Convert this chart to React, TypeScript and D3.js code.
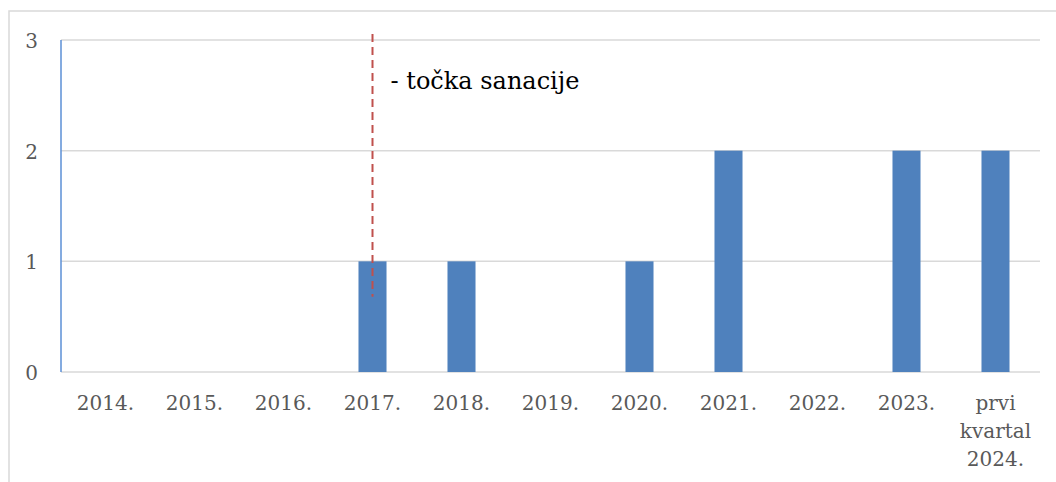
import React from "react";
import * as d3 from "d3";

const categories: string[][] = [
  ["2014."], ["2015."], ["2016."], ["2017."], ["2018."], ["2019."],
  ["2020."], ["2021."], ["2022."], ["2023."], ["prvi", "kvartal", "2024."],
];
const values: number[] = [0, 0, 0, 1, 1, 0, 1, 2, 0, 2, 2];
const yTicks: number[] = [0, 1, 2, 3];
const markerCategory = "2017.";
const markerLabel = "- točka sanacije";

const W = 1056;
const H = 482;
const left = 61;
const right = 1040;
const top = 40;
const bottom = 372;

export default function App() {
  const keys = categories.map((c) => c.join(" "));
  const p = 0.685;
  const x = d3.scaleBand<string>().domain(keys).range([left, right]).paddingInner(p).paddingOuter(p / 2);
  const y = d3.scaleLinear().domain([0, 3]).range([bottom, top]);
  const mk = markerCategory;
  const markerX = (x(mk) ?? 0) + x.bandwidth() / 2;
  const font = "'DejaVu Serif', serif";
  return (
    <svg
      width={W}
      height={H}
      style={{ position: "absolute", left: 0, top: 0, background: "#fff" }}
    >
      <rect x={9} y={11} width={W + 20} height={H + 20} fill="#fff" stroke="#d9d9d9" strokeWidth={1.5} />
      {yTicks.map((t) => (
        <g key={t}>
          {t > 0 && (
            <line x1={left} x2={right} y1={y(t)} y2={y(t)} stroke="#d9d9d9" strokeWidth={1.5} />
          )}
          <text x={38} y={y(t) + 8} textAnchor="end" fontFamily={font} fontSize={20} fill="#595959">
            {t}
          </text>
        </g>
      ))}
      <line x1={left} x2={right} y1={y(0)} y2={y(0)} stroke="#d9d9d9" strokeWidth={1.5} />
      {values.map((v, i) => (
        <rect
          key={keys[i]}
          x={x(keys[i])}
          y={y(v)}
          width={x.bandwidth()}
          height={y(0) - y(v)}
          fill="#4f81bd"
        />
      ))}
      <line x1={left} x2={left} y1={y(3)} y2={y(0)} stroke="#5b8fd6" strokeWidth={1.5} />
      {categories.map((lines, i) => {
        const cx = (x(keys[i]) ?? 0) + x.bandwidth() / 2;
        return (
          <text key={keys[i]} textAnchor="middle" fontFamily={font} fontSize={20} fill="#595959">
            {lines.map((l, j) => (
              <tspan key={j} x={cx} y={410 + j * 28}>
                {l}
              </tspan>
            ))}
          </text>
        );
      })}
      <line
        x1={markerX}
        x2={markerX}
        y1={34}
        y2={y(0.68)}
        stroke="#c0504d"
        strokeWidth={2}
        strokeDasharray="8,5"
      />
      <text x={markerX + 18} y={89} fontFamily={font} fontSize={24} fill="#000">
        {markerLabel}
      </text>
    </svg>
  );
}
